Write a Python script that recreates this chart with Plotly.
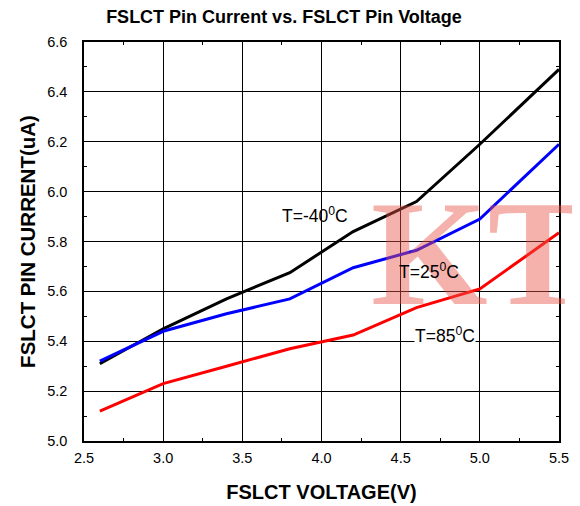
import plotly.graph_objects as go

voltage = [2.6, 3.0, 3.4, 3.8, 4.2, 4.6, 5.0, 5.5]
i_m40 = [5.31, 5.45, 5.57, 5.675, 5.84, 5.96, 6.19, 6.49]
i_25 = [5.32, 5.44, 5.51, 5.57, 5.695, 5.765, 5.89, 6.19]
i_85 = [5.12, 5.23, 5.30, 5.37, 5.425, 5.535, 5.61, 5.835]

series = [("T=-40°C", i_m40, "#000000"), ("T=25°C", i_25, "#0000ff"), ("T=85°C", i_85, "#ff0000")]

fig = go.Figure()
for name, ys, col in series:
    fig.add_trace(go.Scatter(x=voltage, y=ys, mode="lines", name=name,
                             line=dict(color=col, width=3)))

font = "Liberation Sans, Arial, sans-serif"
axis_common = dict(
    showline=True, linecolor="black", linewidth=1.5, mirror="ticks",
    ticks="inside", ticklen=6, tickcolor="black",
    showgrid=True, gridcolor="black", gridwidth=1,
    zeroline=False, tickfont=dict(family=font, size=14.5, color="black"),
    automargin=False,
)
fig.update_xaxes(range=[2.5, 5.5], dtick=0.5, tickformat=".1f", ticklabelstandoff=3,
                 minor=dict(dtick=0.25, ticks="inside", ticklen=3, tickcolor="black"),
                 title=dict(text="<b>FSLCT VOLTAGE(V)</b>", font=dict(family=font, size=20, color="black"), standoff=20),
                 **axis_common)
fig.update_yaxes(range=[5.0, 6.6], dtick=0.2, tickformat=".1f", ticklabelstandoff=12,
                 minor=dict(dtick=0.1, ticks="inside", ticklen=3, tickcolor="black"),
                 title=dict(text="<b>FSLCT PIN CURRENT(uA)</b>", font=dict(family=font, size=20.5, color="black"), standoff=6),
                 **axis_common)

# watermark
fig.add_annotation(text="<b>KT</b>", xref="paper", yref="paper", x=0.601, y=0.47,
                   xanchor="left", yanchor="middle", showarrow=False,
                   font=dict(family="Liberation Serif, serif", size=150, color="rgba(232,85,70,0.45)"))

labels = [("T=-40<sup>0</sup>C", 3.96, 5.905, None), ("T=25<sup>0</sup>C", 4.68, 5.68, None), ("T=85<sup>0</sup>C", 4.78, 5.425, "white")]
for txt, x, y, bg in labels:
    fig.add_annotation(text=txt, x=x, y=y, showarrow=False,
                       font=dict(family=font, size=17.5, color="black"),
                       bgcolor=bg, borderpad=0)

# page body has an 8px default margin, so the figure is sized to fit the 580x506 window
fig.update_layout(
    width=572, height=498,
    margin=dict(l=76, r=21, t=34, b=65),
    paper_bgcolor="white", plot_bgcolor="white",
    showlegend=False,
    title=dict(text="<b>FSLCT Pin Current vs. FSLCT Pin Voltage</b>", x=0.4825, xanchor="center",
               y=0.982, yanchor="middle", font=dict(family=font, size=18, color="black")),
)
fig.write_html("out.html")
